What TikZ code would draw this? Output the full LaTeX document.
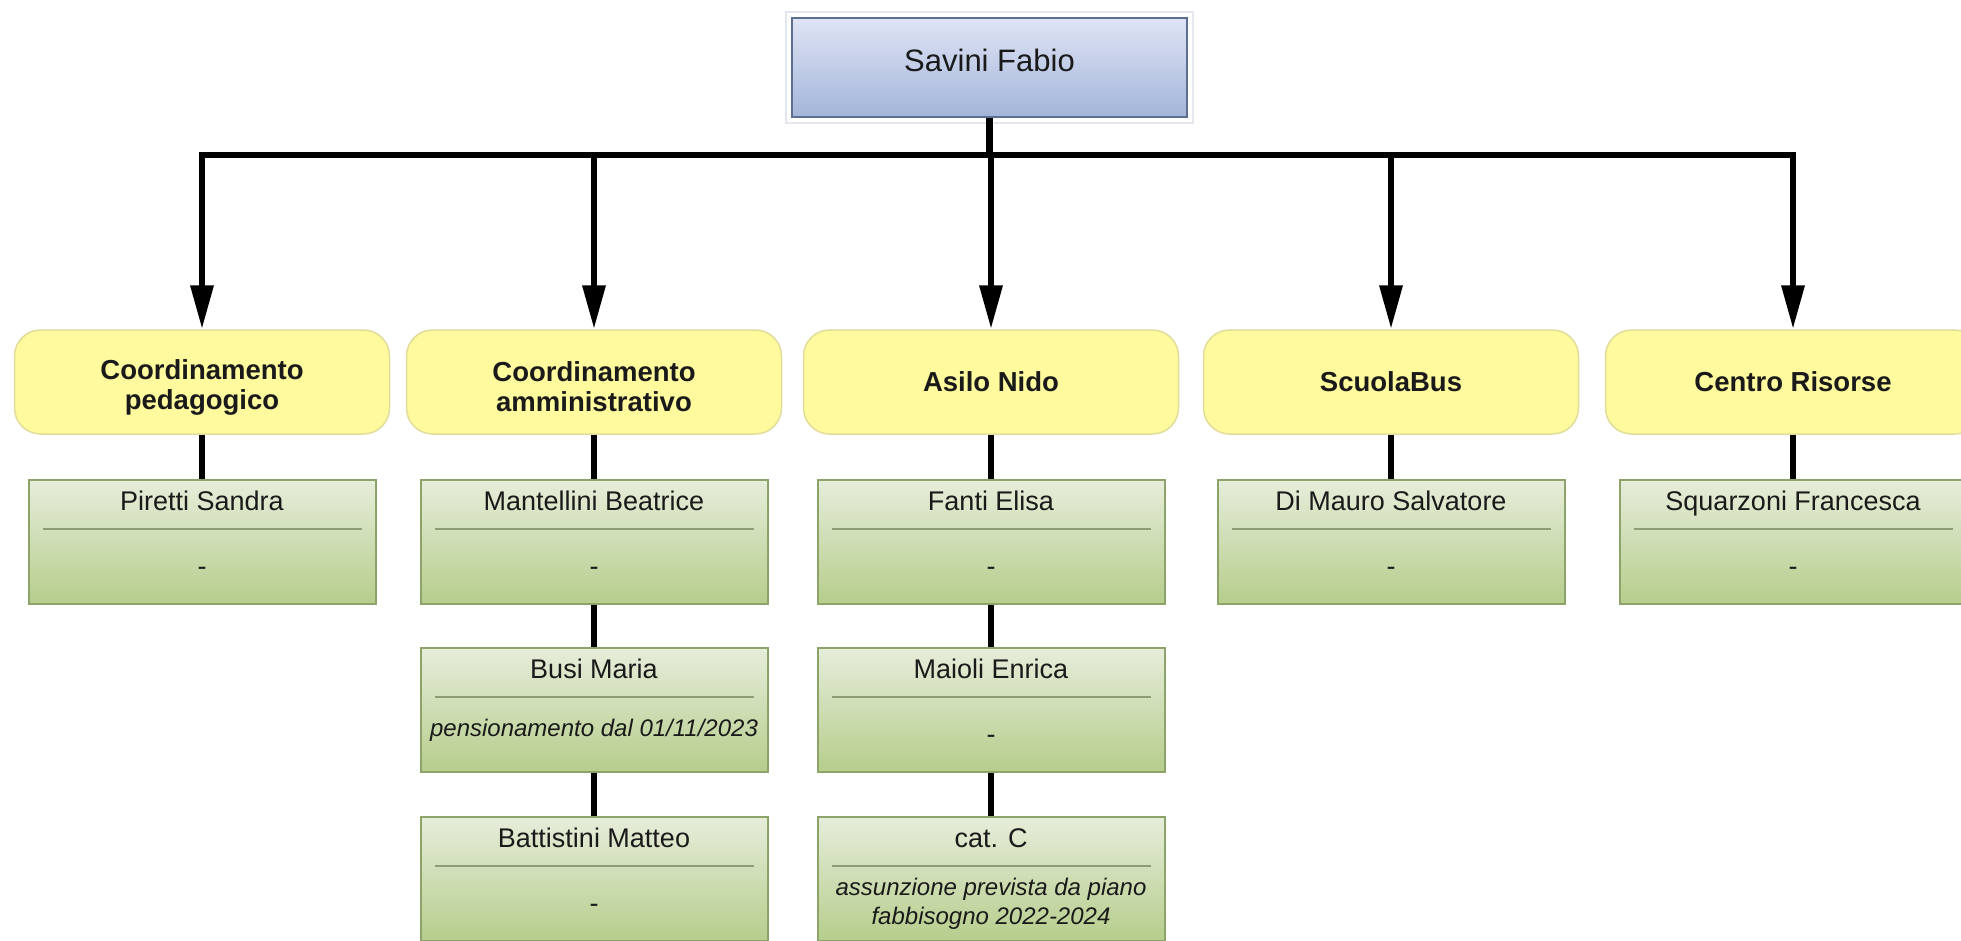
\documentclass[tikz,border=0pt]{standalone}
\usepackage{fontspec}
\setmainfont{Liberation Sans}
\usetikzlibrary{arrows.meta}

\definecolor{headtop}{HTML}{DFE4F5}
\definecolor{headbot}{HTML}{A3B5D9}
\definecolor{headline}{HTML}{5E6E8E}
\definecolor{halo}{HTML}{E4E8EE}
\definecolor{unitfill}{HTML}{FFFA9E}
\definecolor{unitline}{HTML}{E2DD9A}
\definecolor{stafftop}{HTML}{E6EDDA}
\definecolor{staffbot}{HTML}{B6CD8C}
\definecolor{staffline}{HTML}{8CA46A}
\definecolor{divline}{HTML}{8C9C74}
\definecolor{ink}{HTML}{1A1A1A}

% italic face for the remarks under a name
\newcommand\remarkfont{\itshape\fontsize{24}{29}\selectfont}

% one staff card: id, x, top y, name, note, note offset from the top
\newcommand\staffcard[6]{%
  \node[staffbox] (#1) at (#2,#3+62) {};
  \node[staffname] at ([yshift=-28pt]#1.north) {#4};
  \draw[divider] ([xshift=15pt,yshift=-50pt]#1.north west) -- ([xshift=-15pt,yshift=-50pt]#1.north east);
  \node[staffnote] at ([yshift=-#6pt]#1.north) {#5};
}

\begin{document}
\begin{tikzpicture}[x=1pt,y=-1pt,
  conn/.style={line width=6.5pt, draw=black},
  arrowconn/.style={conn, -{Triangle[length=44pt,width=22pt]}},
  headbox/.style={draw=headline, line width=2pt, top color=headtop, bottom color=headbot,
    minimum width=395pt, minimum height=99pt, inner sep=0pt, text=ink,
    font=\fontsize{31}{36}\selectfont, text height=0.72em, text depth=0pt},
  unitbox/.style={draw=unitline, line width=1.5pt, fill=unitfill, rounded corners=26pt,
    minimum width=375pt, minimum height=104pt, inner sep=0pt, align=center, text=ink,
    font=\bfseries\fontsize{27.5}{30}\selectfont},
  unittext/.style={inner sep=0pt, align=center, text=ink,
    font=\bfseries\fontsize{27.5}{30}\selectfont},
  staffbox/.style={draw=staffline, line width=2pt, top color=stafftop, bottom color=staffbot,
    minimum width=347pt, minimum height=124pt, inner sep=0pt},
  staffname/.style={font=\fontsize{27}{30}\selectfont, text=ink, inner sep=0pt,
    text height=0.72em, text depth=0pt},
  staffnote/.style={font=\fontsize{27}{30}\selectfont, text=ink, inner sep=0pt,
    text height=0.72em, text depth=0pt},
  divider/.style={draw=divline, line width=1.5pt},
]
\useasboundingbox (0,0) rectangle (1961,941);
\clip (0,0) rectangle (1961,941);
\fill[white] (0,0) rectangle (1961,941);

% head of the service
\draw[halo, line width=2pt] (786,12) rectangle (1193,123);
\node[headbox] (top) at (989.5,67.5) {Savini Fabio};

% units
\node[unitbox] (u1) at (202,382) {};
\node[unittext] at ([yshift=-5pt]u1.center) {Coordinamento\\pedagogico};
\node[unitbox] (u2) at (594,382) {};
\node[unittext] at ([yshift=-5pt]u2.center) {Coordinamento\\amministrativo};
\node[unitbox] (u3) at (991,382) {Asilo Nido};
\node[unitbox] (u4) at (1391,382) {ScuolaBus};
\node[unitbox] (u5) at (1793,382) {Centro Risorse};

% staff
\staffcard{p1}{202}{480}{Piretti Sandra}{-}{93}
\staffcard{a1}{594}{480}{Mantellini Beatrice}{-}{93}
\staffcard{a2}{594}{648}{Busi Maria}{\remarkfont pensionamento dal 01/11/2023}{86}
\staffcard{a3}{594}{817}{Battistini Matteo}{-}{93}
\staffcard{n1}{991}{480}{Fanti Elisa}{-}{93}
\staffcard{n2}{991}{648}{Maioli Enrica}{-}{93}
\node[staffbox] (n3) at (991,879) {};
\node[staffname] at ([yshift=-28pt]n3.north) {cat. C};
\draw[divider] ([xshift=15pt,yshift=-50pt]n3.north west) -- ([xshift=-15pt,yshift=-50pt]n3.north east);
\node[font=\remarkfont, text=ink, inner sep=0pt, align=center] at ([yshift=-88pt]n3.north)
  {assunzione prevista da piano\\fabbisogno 2022-2024};
\staffcard{b1}{1391}{480}{Di Mauro Salvatore}{-}{93}
\staffcard{r1}{1793}{480}{Squarzoni Francesca}{-}{93}

% connectors
\coordinate (bus) at (989.5,155);
\draw[conn] (top.south) -- (bus);
\foreach \u in {u1,u2,u3,u4,u5}
  \draw[arrowconn] (bus) -| (\u.north);

\draw[conn] (u1.south) -- (p1.north);
\draw[conn] (u2.south) -- (a1.north);
\draw[conn] (a1.south) -- (a2.north);
\draw[conn] (a2.south) -- (a3.north);
\draw[conn] (u3.south) -- (n1.north);
\draw[conn] (n1.south) -- (n2.north);
\draw[conn] (n2.south) -- (n3.north);
\draw[conn] (u4.south) -- (b1.north);
\draw[conn] (u5.south) -- (r1.north);
\end{tikzpicture}
\end{document}
